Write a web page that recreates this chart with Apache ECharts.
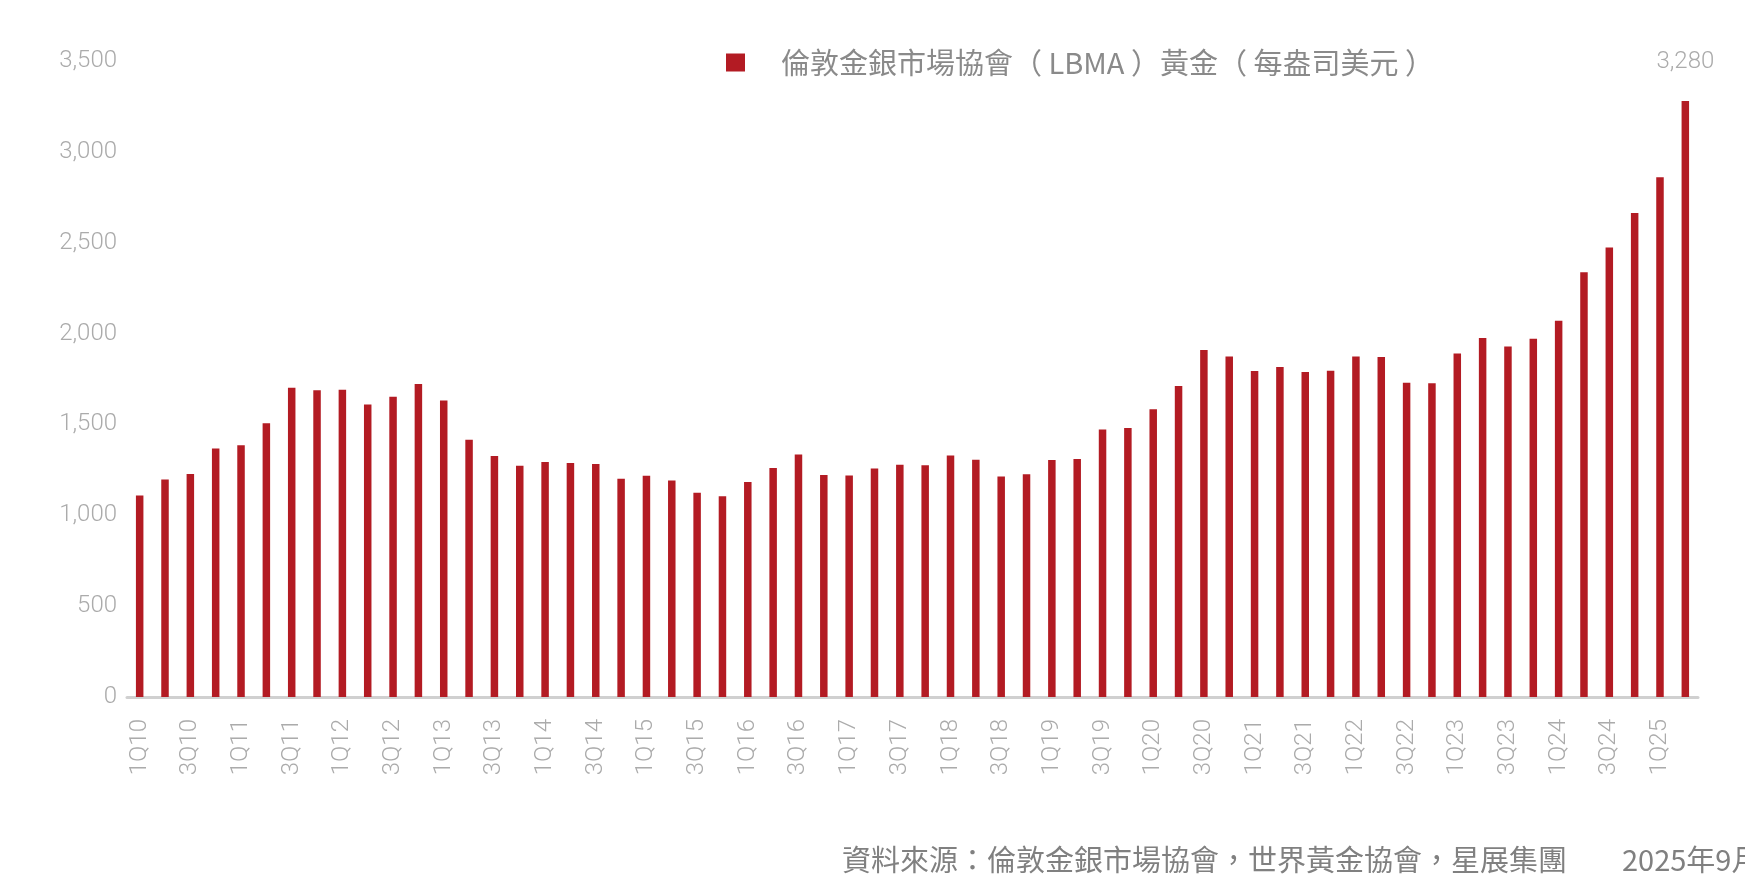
<!DOCTYPE html>
<html>
<head>
<meta charset="utf-8">
<script src="https://cdn.jsdelivr.net/npm/echarts@6/dist/echarts.min.js"></script>
<style>
  html, body { margin: 0; padding: 0; background: #fff; }
  #main { width: 1745px; height: 892px; }
</style>
</head>
<body>
<div id="main"></div>
<script>
var quarters = [
  '1Q10','2Q10','3Q10','4Q10','1Q11','2Q11','3Q11','4Q11',
  '1Q12','2Q12','3Q12','4Q12','1Q13','2Q13','3Q13','4Q13',
  '1Q14','2Q14','3Q14','4Q14','1Q15','2Q15','3Q15','4Q15',
  '1Q16','2Q16','3Q16','4Q16','1Q17','2Q17','3Q17','4Q17',
  '1Q18','2Q18','3Q18','4Q18','1Q19','2Q19','3Q19','4Q19',
  '1Q20','2Q20','3Q20','4Q20','1Q21','2Q21','3Q21','4Q21',
  '1Q22','2Q22','3Q22','4Q22','1Q23','2Q23','3Q23','4Q23',
  '1Q24','2Q24','3Q24','4Q24','1Q25','2Q25'
];
// LBMA gold, USD per ounce (quarterly average)
var goldPrice = [
  1109, 1197, 1227, 1367, 1386, 1506, 1702, 1688,
  1691, 1609, 1652, 1722, 1632, 1415, 1326, 1272,
  1293, 1288, 1282, 1201, 1218, 1192, 1124, 1105,
  1183, 1260, 1335, 1222, 1219, 1257, 1278, 1275,
  1329, 1306, 1213, 1226, 1304, 1310, 1472, 1481,
  1583, 1711, 1909, 1874, 1794, 1816, 1789, 1795,
  1874, 1871, 1729, 1726, 1890, 1976, 1929, 1971,
  2070, 2338, 2474, 2663, 2860, 3280
];
var seriesName = '倫敦金銀市場協會（ LBMA ）黃金（ 每盎司美元 ）';
var sourceText = '資料來源：倫敦金銀市場協會，世界黃金協會，星展集團　    2025年9月';

var numFont = 'Roboto, "Noto Sans", sans-serif';
var cjkFont = '"Noto Sans CJK TC", "Noto Sans", sans-serif';
var lastIdx = goldPrice.length - 1;

var chart = echarts.init(document.getElementById('main'));
chart.setOption({
  animation: false,
  backgroundColor: '#ffffff',
  legend: {
    left: 726,
    top: 48,
    padding: 0,
    icon: 'rect',
    itemWidth: 19,
    itemHeight: 18,
    data: [seriesName],
    textStyle: {
      color: '#8a8a8a',
      fontSize: 29,
      fontFamily: cjkFont,
      padding: [0, 0, 0, 31]
    }
  },
  grid: {
    left: 127,
    right: 47,
    top: 61,
    bottom: 195
  },
  xAxis: {
    type: 'category',
    data: quarters,
    axisLine: { lineStyle: { color: '#d0d0d0', width: 3 } },
    axisTick: { show: false },
    axisLabel: {
      interval: 1,
      rotate: 90,
      margin: 22,
      color: '#ababab',
      fontSize: 24,
      fontWeight: 300,
      fontFamily: numFont
    }
  },
  yAxis: {
    type: 'value',
    min: 0,
    max: 3500,
    interval: 500,
    splitLine: { show: false },
    axisLine: { show: false },
    axisTick: { show: false },
    axisLabel: {
      margin: 10,
      color: '#ababab',
      fontSize: 24,
      fontWeight: 300,
      fontFamily: numFont,
      formatter: function (v) { return v.toLocaleString('en-US'); }
    }
  },
  series: [{
    name: seriesName,
    type: 'bar',
    barWidth: 7.5,
    itemStyle: { color: '#b31b23' },
    label: {
      show: true,
      position: 'top',
      distance: 27,
      color: '#ababab',
      fontSize: 24,
      fontWeight: 300,
      fontFamily: numFont,
      formatter: function (p) {
        return p.dataIndex === lastIdx ? p.value.toLocaleString('en-US') : '';
      }
    },
    data: goldPrice
  }],
  graphic: [{
    type: 'text',
    left: 842,
    top: 845,
    style: {
      text: sourceText,
      fill: '#808080',
      fontSize: 29,
      fontFamily: cjkFont
    }
  }]
});
</script>
</body>
</html>
